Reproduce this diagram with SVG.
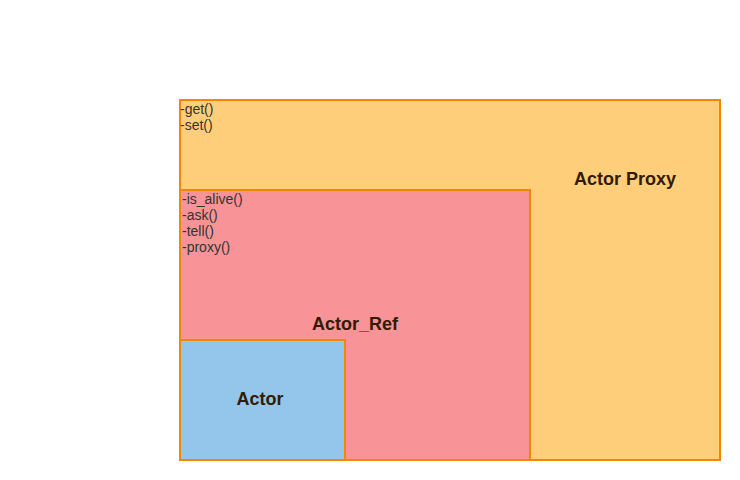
<svg xmlns="http://www.w3.org/2000/svg" width="740" height="480" viewBox="0 0 740 480">
<style>
.box{stroke:#F08705;stroke-width:2}
.lbl{font-family:"Liberation Sans",Arial,sans-serif;font-weight:bold;font-size:18px;fill:#331A00;text-anchor:middle}
.m{font-family:"Liberation Sans",Arial,sans-serif;font-size:14px;fill:#333333}
</style>
<rect width="740" height="480" fill="#FFFFFF"/>
<g id="actor-proxy">
<rect class="box" x="180" y="100" width="540" height="360" fill="#FFCE7A"/>
<text class="m" x="180" y="114">-get()</text>
<text class="m" x="180" y="130">-set()</text>
<text class="lbl" x="625" y="185">Actor Proxy</text>
</g>
<g id="actor-ref">
<rect class="box" x="180" y="190" width="350" height="270" fill="#F89397"/>
<text class="m" x="182" y="204">-is_alive()</text>
<text class="m" x="182" y="220">-ask()</text>
<text class="m" x="182" y="236">-tell()</text>
<text class="m" x="182" y="252">-proxy()</text>
<text class="lbl" x="355" y="330">Actor_Ref</text>
</g>
<g id="actor">
<rect class="box" x="180" y="340" width="165" height="120" fill="#94C6EC"/>
<text class="lbl" x="260" y="405">Actor</text>
</g>
<g id="connectors"/>
</svg>
